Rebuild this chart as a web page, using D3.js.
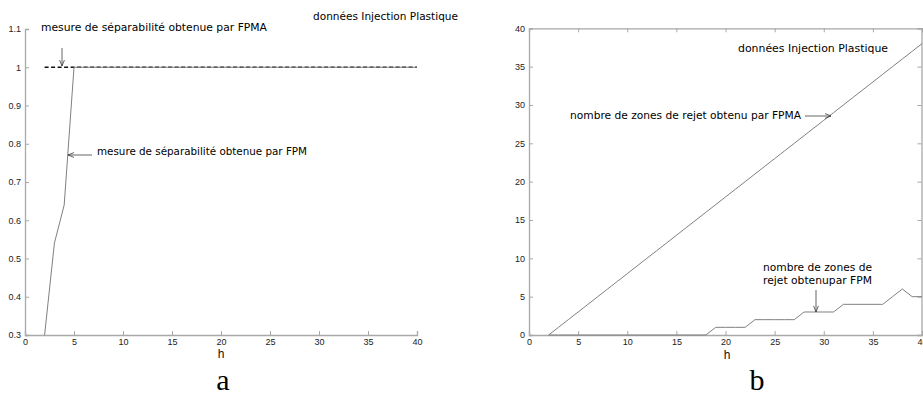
<!DOCTYPE html>
<html><head><meta charset="utf-8">
<script src="https://cdn.jsdelivr.net/npm/d3@7"></script>
<style>
body{margin:0;background:#fff;}
svg{display:block;}
.tk text{font-family:"Liberation Sans",Arial,sans-serif;font-size:9px;fill:#222;}
.ann{font-family:"DejaVu Sans",Verdana,sans-serif;font-size:11px;fill:#000;}
</style>
</head><body>
<script>
// ---- data ----
const hA = d3.range(2, 41);                       // h values, panel a
const fpmSep = hA.map(h => h === 2 ? 0.3 : h === 3 ? 0.54 : h === 4 ? 0.64 : 1.0);
const fpmaSep = hA.map(() => 1.0);
const hB = d3.range(2, 41);                       // h values, panel b
const fpmaZones = [0,1,2,3,4,5,6,7,8,9,10,11,12,13,14,15,16,17,18,19,20,21,22,23,24,25,26,27,28,29,30,31,32,33,34,35,36,37,38];
const fpmZones  = [0,0,0,0,0,0,0,0,0,0,0,0,0,0,0,0,0,1,1,1,1,2,2,2,2,2,3,3,3,3,4,4,4,4,4,5,6,5,5];
const xTicks = [0,5,10,15,20,25,30,35,40];
const yTicksA = [0.3,0.4,0.5,0.6,0.7,0.8,0.9,1,1.1];
const yTicksB = [0,5,10,15,20,25,30,35,40];

const W = 923, H = 407;
const svg = d3.select("body").append("svg").attr("width", W).attr("height", H);
const axisCol = "#a8a8a8", lineCol = "#808080";

function styleAxis(g){
  g.selectAll(".domain").attr("stroke", axisCol).attr("stroke-width", 1.3);
  g.selectAll(".tick line").attr("stroke", axisCol);
  g.attr("class","tk");
}

// ---- panel a ----
const xa = d3.scaleLinear().domain([0,40]).range([25,417]);
const ya = d3.scaleLinear().domain([0.3,1.1]).range([335,29]);
const ga = svg.append("g");
ga.append("g").attr("transform","translate(0,335)")
  .call(d3.axisBottom(xa).tickValues(xTicks).tickSize(-4).tickPadding(3).tickFormat(d3.format("d")))
  .call(styleAxis).call(g=>g.selectAll(".tick text").attr("y",4).attr("dy","0.71em"));
ga.append("g").attr("transform","translate(25,0)")
  .call(d3.axisLeft(ya).tickValues(yTicksA).tickSize(-4).tickPadding(3).tickFormat(d=>d===1?"1":d3.format(".1f")(d)))
  .call(styleAxis).call(g=>g.selectAll(".tick text").attr("x",-4));
ga.append("path").datum(hA.map((h,i)=>[h,fpmaSep[i]]))
  .attr("d", d3.line().x(d=>xa(d[0])).y(d=>ya(d[1])))
  .attr("fill","none").attr("stroke","#111").attr("stroke-width",1.7).attr("stroke-dasharray","4,2.5");
ga.append("path").datum(hA.map((h,i)=>[h,fpmSep[i]]))
  .attr("d", d3.line().x(d=>xa(d[0])).y(d=>ya(d[1])))
  .attr("fill","none").attr("stroke",lineCol).attr("stroke-width",1);

// ---- panel b ----
const xb = d3.scaleLinear().domain([0,40]).range([529,922]);
const yb = d3.scaleLinear().domain([0,40]).range([335,28.3]);
const gb = svg.append("g");
gb.append("g").attr("transform","translate(0,335)")
  .call(d3.axisBottom(xb).tickValues(xTicks).tickSize(-4).tickFormat(d3.format("d")))
  .call(styleAxis).call(g=>g.selectAll(".tick text").attr("y",4).attr("dy","0.71em"));
gb.append("g").attr("transform","translate(0,28.3)")
  .call(d3.axisTop(xb).tickValues(xTicks).tickSize(-4).tickFormat(""))
  .call(styleAxis);
gb.append("g").attr("transform","translate(529,0)")
  .call(d3.axisLeft(yb).tickValues(yTicksB).tickSize(-4).tickFormat(d3.format("d")))
  .call(styleAxis).call(g=>g.selectAll(".tick text").attr("x",-4));
gb.append("g").attr("transform","translate(921.5,0)")
  .call(d3.axisRight(yb).tickValues(yTicksB).tickSize(-4).tickFormat(""))
  .call(styleAxis);
gb.append("path").datum(hB.map((h,i)=>[h,fpmaZones[i]]))
  .attr("d", d3.line().x(d=>xb(d[0])).y(d=>yb(d[1])))
  .attr("fill","none").attr("stroke",lineCol).attr("stroke-width",1);
gb.append("path").datum(hB.map((h,i)=>[h,fpmZones[i]]))
  .attr("d", d3.line().x(d=>xb(d[0])).y(d=>yb(d[1])))
  .attr("fill","none").attr("stroke",lineCol).attr("stroke-width",1);

// ---- arrows ----
svg.append("defs").append("marker").attr("id","ah").attr("viewBox","0 0 10 10")
  .attr("refX",10).attr("refY",5).attr("markerWidth",7).attr("markerHeight",7).attr("orient","auto")
  .append("path").attr("d","M0,1 L10,5 L0,9").attr("fill","none").attr("stroke","#333").attr("stroke-width",1.2);
function arrow(x1,y1,x2,y2){
  svg.append("line").attr("x1",x1).attr("y1",y1).attr("x2",x2).attr("y2",y2)
    .attr("stroke","#555").attr("stroke-width",0.9).attr("marker-end","url(#ah)");
}
arrow(62,48,62,66);
arrow(92,155,68,155);
arrow(805,116,831,116);
arrow(816,290,816,312);

// ---- text ----
function txt(x,y,s,len){
  const t = svg.append("text").attr("class","ann").attr("x",x).attr("y",y).text(s);
  if(len) t.attr("textLength",len).attr("lengthAdjust","spacingAndGlyphs");
  return t;
}
txt(41,31,"mesure de séparabilité obtenue par FPMA",226);
txt(313,20,"données Injection Plastique",145);
txt(97,155,"mesure de séparabilité obtenue par FPM",210);
txt(738,52,"données Injection Plastique",150);
txt(570,119,"nombre de zones de rejet obtenu par FPMA",231);
txt(763,271,"nombre de zones de",109);
txt(763,284,"rejet obtenupar FPM",109);

svg.append("text").attr("x",221).attr("y",358).attr("text-anchor","middle")
  .style("font-family","Liberation Sans, Arial").style("font-size","12px").attr("fill","#111").text("h");
svg.append("text").attr("x",727).attr("y",359).attr("text-anchor","middle")
  .style("font-family","Liberation Sans, Arial").style("font-size","12px").attr("fill","#111").text("h");
svg.append("text").attr("x",223).attr("y",390).attr("text-anchor","middle")
  .style("font-family","Liberation Serif, Times New Roman, serif").style("font-size","30px").attr("fill","#000").text("a");
svg.append("text").attr("x",757).attr("y",390).attr("text-anchor","middle")
  .style("font-family","Liberation Serif, Times New Roman, serif").style("font-size","30px").attr("fill","#000").text("b");
</script>
</body></html>
